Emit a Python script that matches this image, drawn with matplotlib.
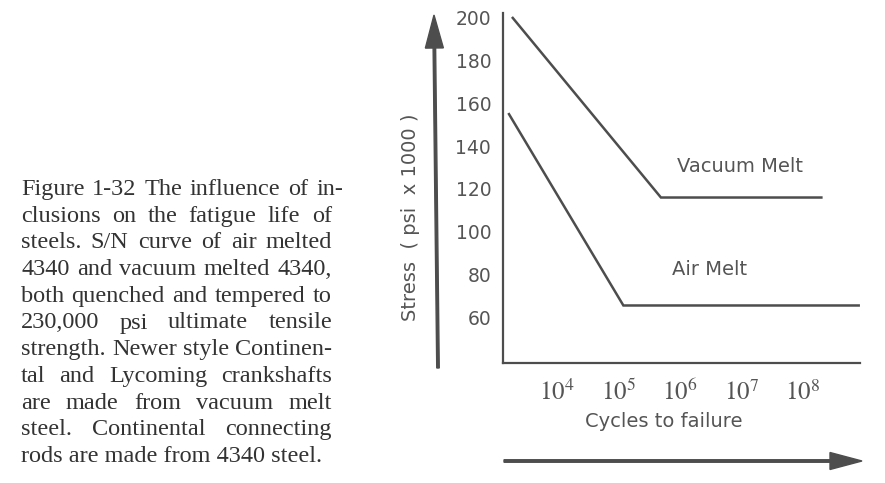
import matplotlib
matplotlib.use("Agg")
import matplotlib.pyplot as plt
from matplotlib.patches import FancyArrow
from matplotlib.transforms import IdentityTransform

# S/N curves (cycles, stress in ksi)
cycles_vacuum = [1.9e3, 4.9e5, 2.0e8]
stress_vacuum = [200, 116, 116]
cycles_air = [1.65e3, 1.2e5, 8.1e8]
stress_air = [155, 65.5, 65.5]

y_ticks = [60, 80, 100, 120, 140, 160, 180, 200]
x_ticks = [1e4, 1e5, 1e6, 1e7, 1e8]
x_tick_labels = ["$10^{4}$", "$10^{5}$", "$10^{6}$", "$10^{7}$", "$10^{8}$"]

caption_lines = [
    "Figure 1-32 The influence of in-",
    "clusions on the fatigue life of",
    "steels. S/N curve of air melted",
    "4340 and vacuum melted 4340,",
    "both quenched and tempered to",
    "230,000 psi ultimate tensile",
    "strength. Newer style Continen-",
    "tal and Lycoming crankshafts",
    "are made from vacuum melt",
    "steel. Continental connecting",
    "rods are made from 4340 steel.",
]

W, H = 885, 483
ink = "#4d4d4d"
txt = "#555555"

plt.rcParams["mathtext.fontset"] = "stix"
fig = plt.figure(figsize=(W / 100, H / 100), dpi=100)
fig.patch.set_facecolor("white")

ax = fig.add_axes([503 / W, 120 / H, 357 / W, 350 / H])
ax.plot(cycles_vacuum, stress_vacuum, color=ink, lw=1.8, solid_joinstyle="miter")
ax.plot(cycles_air, stress_air, color=ink, lw=1.8, solid_joinstyle="miter")
ax.set_xscale("log")
ax.set_xlim(10 ** 3.12, 10 ** 8.93)
ax.set_ylim(38.6, 202.3)

ax.set_yticks(y_ticks)
ax.set_yticklabels([str(v) for v in y_ticks], fontsize=13.5, color=txt,
                   family="DejaVu Sans")
ax.set_xticks(x_ticks)
ax.set_xticklabels(x_tick_labels, fontsize=18, color=txt)
ax.minorticks_off()
ax.tick_params(axis="y", length=0, pad=8.5)
ax.tick_params(axis="x", length=0, pad=12)

for s in ("top", "right"):
    ax.spines[s].set_visible(False)
for s in ("left", "bottom"):
    ax.spines[s].set_color(ink)
    ax.spines[s].set_linewidth(1.6)

ax.set_xlabel("Cycles to failure", fontsize=14, color=txt, va="center")
ax.xaxis.set_label_coords(0.451, -0.166)
ax.set_ylabel("Stress  ( psi  x 1000 )", fontsize=14, color=txt, va="center")
ax.yaxis.set_label_coords(-0.2605, 0.417)

ax.text(0.664, 0.56, "Vacuum Melt", transform=ax.transAxes, fontsize=14,
        color=txt, ha="center", va="center")
ax.text(0.58, 0.266, "Air Melt", transform=ax.transAxes, fontsize=14,
        color=txt, ha="center", va="center")

# hand drawn style arrows beside the axes
fig.add_artist(FancyArrow(438, 115, -4, 353, width=2.5, head_width=18,
                          head_length=33, length_includes_head=True,
                          color=ink, transform=IdentityTransform()))
fig.add_artist(FancyArrow(504, 22, 358, 0, width=2.5, head_width=17,
                          head_length=32, length_includes_head=True,
                          color=ink, transform=IdentityTransform()))

# justified caption, one text per word
renderer = fig.canvas.get_renderer()
x0 = 21
right_edges = [343] + [332] * 9
first_base = 195
step = 26.7
cap_kw = dict(fontsize=17.5, color="#333333", family="Liberation Serif",
              va="baseline", ha="left")
for i, line in enumerate(caption_lines):
    yb = (H - (first_base + i * step)) / H
    if i == len(caption_lines) - 1:
        fig.text(x0 / W, yb, line, **cap_kw)
        continue
    words = line.split()
    items = [fig.text(0, yb, w, **cap_kw) for w in words]
    widths = [t.get_window_extent(renderer).width for t in items]
    gap = (right_edges[i] - x0 - sum(widths)) / (len(words) - 1)
    x = x0
    for t, wd in zip(items, widths):
        t.set_x(x / W)
        x += wd + gap

fig.savefig("out.png", dpi=100, facecolor="white")
